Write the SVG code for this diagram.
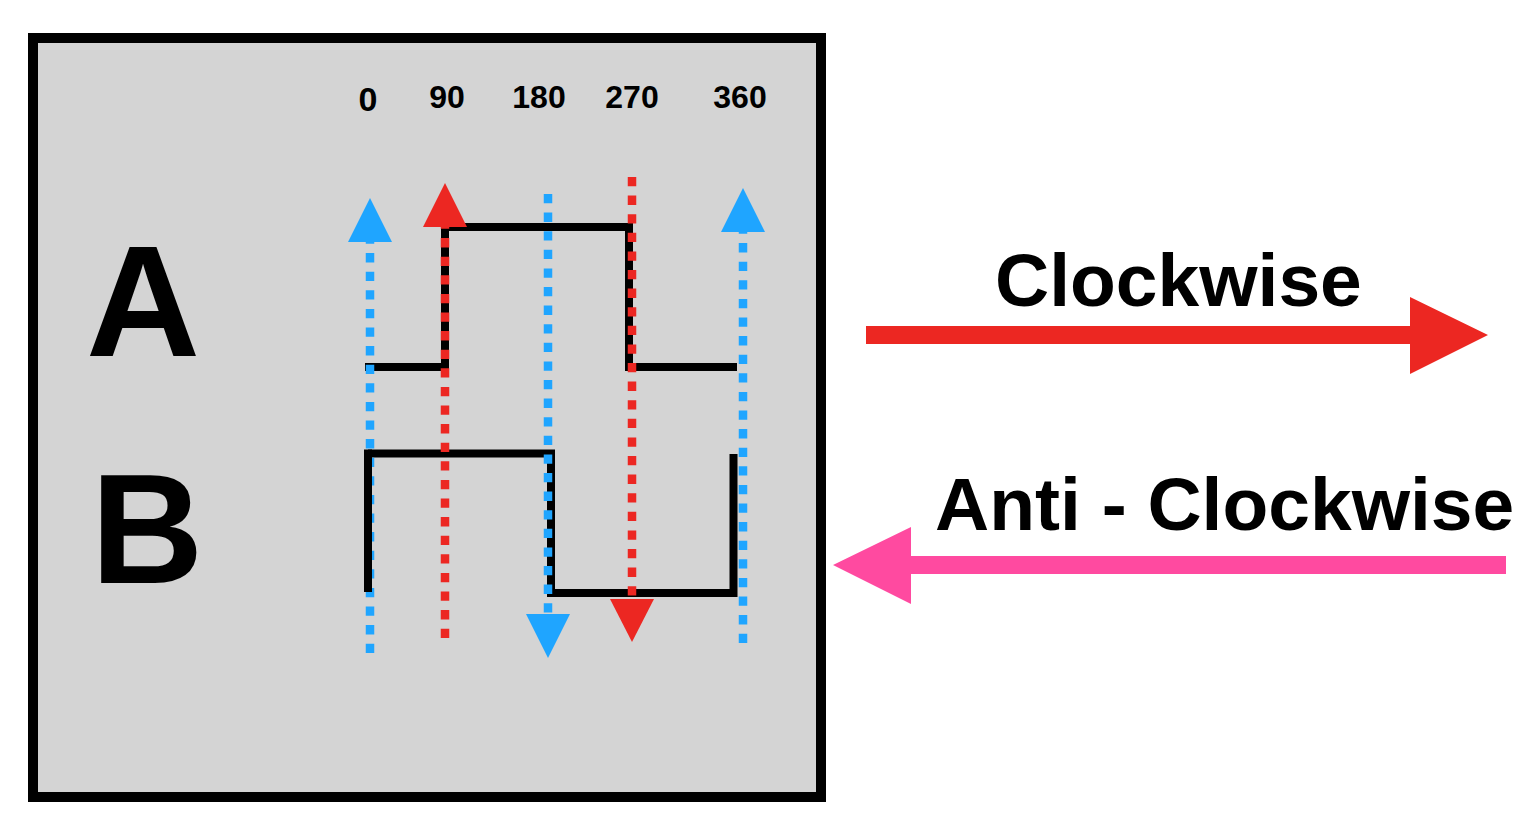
<svg xmlns="http://www.w3.org/2000/svg" width="1539" height="830" viewBox="0 0 1539 830">
<style>
.lbl{font-family:"Liberation Sans",Arial,sans-serif;font-weight:bold;fill:#000}
.wave{fill:none;stroke:#000;stroke-width:8;stroke-linejoin:miter;stroke-linecap:butt}
.blue{stroke:#1fa5ff;stroke-width:8.5;stroke-dasharray:9.3 9.3;fill:none}
.red{stroke:#ec2722;stroke-width:8.5;stroke-dasharray:9.3 9.3;fill:none}
.bh{fill:#1fa5ff}
.rh{fill:#ec2722}
</style>
<rect width="1539" height="830" fill="#fff"/>
<g id="frame">
<rect x="33" y="38" width="788" height="759" fill="#d4d4d4" stroke="#000" stroke-width="10"/>
</g>
<g id="angle-labels">
<text class="lbl" x="368" y="111" font-size="34" text-anchor="middle">0</text>
<text class="lbl" x="447" y="108" font-size="32" text-anchor="middle">90</text>
<text class="lbl" x="539" y="108" font-size="32" text-anchor="middle">180</text>
<text class="lbl" x="632" y="108" font-size="32" text-anchor="middle">270</text>
<text class="lbl" x="740" y="108" font-size="32" text-anchor="middle">360</text>
</g>
<g id="label-A"><text class="lbl" x="143" y="356" font-size="158" text-anchor="middle">A</text></g>
<g id="label-B"><text class="lbl" x="147" y="583" font-size="156" text-anchor="middle">B</text></g>
<g id="wave-A"><path class="wave" d="M365,367 H445 V227 H629 V367 H737"/></g>
<g id="wave-B"><path class="wave" d="M368,453.5 H551 V593 H733.5 V454"/></g>
<g id="connectors">
<line class="blue" x1="370" y1="653" x2="370" y2="242"/>
<polygon class="bh" points="370,198 348,242 392,242"/>
<line class="red" x1="445" y1="638" x2="445" y2="226"/>
<polygon class="rh" points="445,183 423,227 467,227"/>
<line class="blue" x1="548" y1="194" x2="548" y2="615"/>
<polygon class="bh" points="548,658 526,614 570,614"/>
<line class="red" x1="632" y1="177" x2="632" y2="600"/>
<polygon class="rh" points="632,642 610,599 654,599"/>
<line class="blue" x1="743" y1="643" x2="743" y2="231"/>
<polygon class="bh" points="743,188 721,232 765,232"/>
</g>
<g id="wave-B-left"><path class="wave" d="M368,592 V449.5"/></g>
<g id="clockwise">
<text class="lbl" x="995" y="306" font-size="75">Clockwise</text>
<polygon fill="#ec2722" points="866,326 1410,326 1410,297 1488,335 1410,374 1410,344 866,344"/>
</g>
<g id="anti-clockwise">
<text class="lbl" x="935" y="530" font-size="75">Anti - Clockwise</text>
<polygon fill="#ff4aa0" points="1506,556 911,556 911,527 833,565 911,604 911,574 1506,574"/>
</g>
</svg>
